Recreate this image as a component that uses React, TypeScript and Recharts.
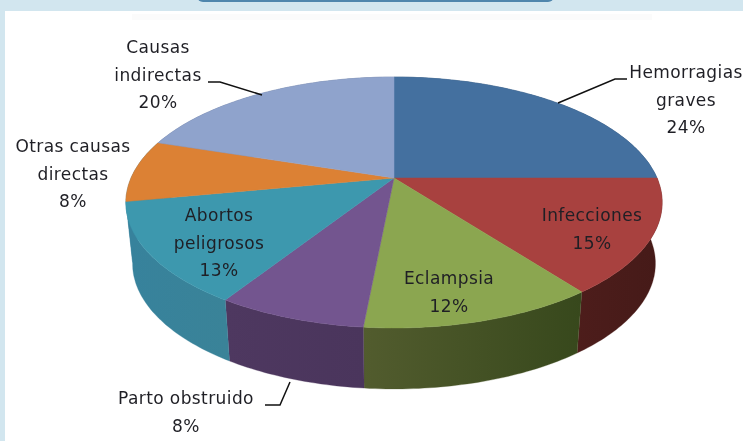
import React from "react";
import { PieChart, Pie } from "recharts";

const names = ["Hemorragias graves", "Infecciones", "Eclampsia", "Parto obstruido", "Abortos peligrosos", "Otras causas directas", "Causas indirectas"];
// printed percentages
const printed = ["24%", "15%", "12%", "8%", "13%", "8%", "20%"];
// slice sizes
const sizes = [25, 14.7, 11.8, 7.5, 13, 8, 20];
const topColors = ["#44709f", "#a8413f", "#8ba650", "#73558f", "#3d98ae", "#dc8134", "#8fa3cc"];
const sideColors = ["#2e4a6b", "#4d1d1b", "#525c2e", "#4e3860", "#37829c", "#37829c", "#5f6d8a"];
const sideEndColors = ["#2e4a6b", "#451a18", "#37481c", "#4a355c", "#3a8398", "#37829c", "#5f6d8a"];
const labelLines = [
  ["Hemorragias", "graves", "24%"],
  ["Infecciones", "15%"],
  ["Eclampsia", "12%"],
  ["Parto obstruido", "8%"],
  ["Abortos", "peligrosos", "13%"],
  ["Otras causas", "directas", "8%"],
  ["Causas", "indirectas", "20%"],
];

const table = names.map((name, i) => ({ name, printed: printed[i], value: sizes[i], fill: topColors[i], side: sideColors[i], sideEnd: sideEndColors[i] }));

// layout
const W = 743, H = 441, CX = 394, CY = 178, R = 100;
const AX = 2.63, BY = 1.207, P = 0.195, DEPTH = 61, SHRINK = 0.975;
const labelPos = [
  { x: 686, y: 72 }, { x: 592, y: 215 }, { x: 449, y: 278 }, { x: 186, y: 398 },
  { x: 219, y: 215 }, { x: 73, y: 146 }, { x: 158, y: 47 },
];
const lineH = 27.5;
const leaders: (string | null)[] = ["558,103 615,79 627,79", null, null, "290,382 280,405 265,405", null, null, "208,82 220,82 262,95"];

function project(cx: number, cy: number, r: number, deg: number) {
  const t = ((90 - deg) * Math.PI) / 180;
  const x = Math.sin(t), z = -Math.cos(t);
  const s = 1 / (1 - P * z);
  return [cx + AX * r * x * s, cy + BY * r * z * s];
}
function arc(cx: number, cy: number, r: number, a: number, b: number) {
  const n = Math.max(2, Math.ceil(Math.abs(a - b)));
  const pts: number[][] = [];
  for (let i = 0; i <= n; i++) pts.push(project(cx, cy, r, a + ((b - a) * i) / n));
  return pts;
}
const TopShape = (p: any) => {
  const pts = arc(p.cx, p.cy, p.outerRadius, p.startAngle, p.endAngle);
  const d = `M${p.cx},${p.cy}L` + pts.map((q) => q.map((v) => v.toFixed(1)).join(",")).join("L") + "Z";
  return <path d={d} fill={p.fill} stroke={p.fill} strokeWidth={0.5} />;
};
const SideShape = (p: any) => {
  const pts = arc(p.cx, p.cy, p.outerRadius, p.startAngle, p.endAngle);
  const low = pts.map(([x, y]) => [p.cx + (x - p.cx) * SHRINK, y + DEPTH]).reverse();
  const d = "M" + [...pts, ...low].map((q) => q.map((v) => v.toFixed(1)).join(",")).join("L") + "Z";
  const side = p.side ?? p.payload?.side;
  const sideEnd = p.sideEnd ?? p.payload?.sideEnd;
  const id = `side-${p.index ?? p.name}`.replace(/\s/g, "");
  return (
    <g>
      <defs>
        <linearGradient id={id} x1="0" y1="0" x2="1" y2="0">
          <stop offset="0" stopColor={side} />
          <stop offset="1" stopColor={sideEnd} />
        </linearGradient>
      </defs>
      <path d={d} fill={`url(#${id})`} stroke={side} strokeWidth={0.3} />
    </g>
  );
};
const renderLabel = (p: any) => {
  const i = p.index;
  const pos = labelPos[i];
  return (
    <g key={i}>
      {leaders[i] && <polyline points={leaders[i] as string} fill="none" stroke="#111" strokeWidth={1.5} />}
      {labelLines[i].map((t, k) => (
        <text key={k} x={pos.x} y={pos.y + k * lineH} textAnchor="middle" dominantBaseline="central"
          fontFamily="'DejaVu Sans', sans-serif" fontSize={17} letterSpacing={0.4} fill="#1f1f25">
          {t}
        </text>
      ))}
    </g>
  );
};

export default function App() {
  return (
    <div style={{ position: "absolute", left: 0, top: 0, width: W, height: H, overflow: "hidden", background: "#d2e6ef" }}>
      <div style={{ position: "absolute", left: 5, top: 11, width: W - 5, height: H - 11, background: "#ffffff" }} />
      <div style={{ position: "absolute", left: 197, top: -10, width: 357, height: 12, background: "#4f86ad", borderRadius: 8 }} />
      <div style={{ position: "absolute", left: 132, top: 14, width: 520, height: 6, background: "#fbfbfb" }} />
      <div style={{ position: "absolute", left: 0, top: 0, filter: "blur(0.4px)" }}>
        <PieChart width={W} height={H} margin={{ top: 0, right: 0, bottom: 0, left: 0 }}>
          <Pie data={table} dataKey="value" nameKey="name" cx={CX} cy={CY} outerRadius={R} startAngle={90} endAngle={-270}
            isAnimationActive={false} stroke="none" shape={SideShape} />
          <Pie data={table} dataKey="value" nameKey="name" cx={CX} cy={CY} outerRadius={R} startAngle={90} endAngle={-270}
            isAnimationActive={false} stroke="none" shape={TopShape} label={renderLabel} labelLine={false} />
        </PieChart>
      </div>
    </div>
  );
}
